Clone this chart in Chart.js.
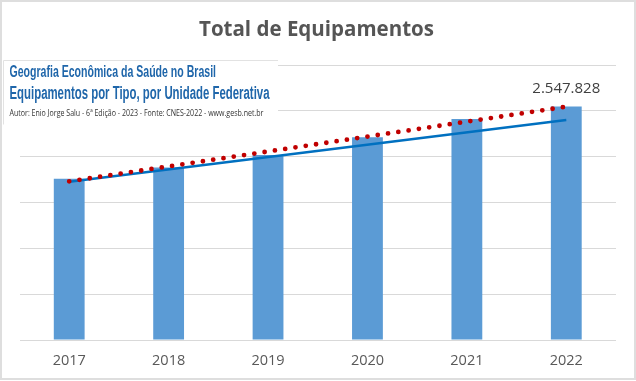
<!DOCTYPE html>
<html>
<head>
<meta charset="utf-8">
<script src="https://cdn.jsdelivr.net/npm/chart.js@4.4.1/dist/chart.umd.min.js"></script>
<style>
html,body{margin:0;padding:0;background:#fff;}
#wrap{width:636px;height:381px;position:relative;}
</style>
</head>
<body>
<div id="wrap"><canvas id="c" width="636" height="381"></canvas></div>
<script>
// ---- data ----
const categories = ['2017', '2018', '2019', '2020', '2021', '2022'];
const totals = [1760000, 1882000, 2018000, 2211000, 2411000, 2547828];
const trendBlue = [1726000, null, null, null, null, 2400000];
const trendRed = [1731000, null, null, null, null, 2545000];
const chartTitle = 'Total de Equipamentos';
const boxLine1 = 'Geografia Econômica da Saúde no Brasil';
const boxLine2 = 'Equipamentos por Tipo, por Unidade Federativa';
const boxLine3 = 'Autor: Enio Jorge Salu - 6ª Edição - 2023 - Fonte: CNES-2022 - www.gesb.net.br';
const labelIndex = 5;

function fmtBR(n){ return String(n).replace(/\B(?=(\d{3})+(?!\d))/g, '.'); }

function fitText(ctx, text, x, y, width, font, color, align){
  ctx.save();
  ctx.font = font;
  ctx.fillStyle = color;
  ctx.textBaseline = 'alphabetic';
  ctx.textAlign = 'left';
  const w = ctx.measureText(text).width;
  const s = width / w;
  ctx.translate(x, y);
  ctx.scale(s, 1);
  ctx.fillText(text, align === 'center' ? -w / 2 : 0, 0);
  ctx.restore();
}

const decor = {
  id: 'decor',
  beforeDraw(chart){
    const ctx = chart.ctx;
    ctx.save();
    ctx.fillStyle = '#fff';
    ctx.fillRect(0, 0, chart.width, chart.height);
    ctx.restore();
  },
  afterDraw(chart){
    const ctx = chart.ctx;
    // outer border
    ctx.save();
    ctx.strokeStyle = '#DEDEDE';
    ctx.lineWidth = 2;
    ctx.strokeRect(1, 1, 634, 378);
    ctx.restore();
    // title
    fitText(ctx, chartTitle, 316.5, 36, 235, 'bold 22px "Open Sans"', '#555555', 'center');
    // value label on last bar
    const meta = chart.getDatasetMeta(2);
    const bar = meta.data[labelIndex];
    ctx.save();
    ctx.font = '15px "Open Sans"';
    ctx.fillStyle = '#404040';
    ctx.textAlign = 'center';
    ctx.textBaseline = 'alphabetic';
    ctx.fillText(fmtBR(totals[labelIndex]), bar.x, bar.y - 13);
    ctx.restore();
    // overlay box
    ctx.save();
    ctx.fillStyle = '#fff';
    ctx.fillRect(3, 60.5, 275, 64);
    ctx.strokeStyle = '#E2E2E2';
    ctx.lineWidth = 1;
    ctx.beginPath();
    ctx.moveTo(3.5, 124.5); ctx.lineTo(3.5, 60.5); ctx.lineTo(278, 60.5);
    ctx.stroke();
    ctx.restore();
    fitText(ctx, boxLine1, 9.5, 77.3, 206.5, 'bold 17px "Liberation Sans Narrow", "Liberation Sans"', '#1F66AA');
    fitText(ctx, boxLine2, 9.5, 99.3, 260, 'bold 17.5px "Liberation Sans Narrow", "Liberation Sans"', '#1F66AA');
    fitText(ctx, boxLine3, 9.5, 115.7, 254, '8.5px "Open Sans"', '#333333');
  }
};

new Chart(document.getElementById('c'), {
  type: 'bar',
  data: {
    labels: categories,
    datasets: [
      {
        type: 'line',
        data: trendRed,
        borderColor: '#C00000',
        borderWidth: 4.8,
        borderDash: [0, 10.4],
        borderCapStyle: 'round',
        pointRadius: 0,
        spanGaps: true,
        order: 1
      },
      {
        type: 'line',
        data: trendBlue,
        borderColor: '#0070C0',
        borderWidth: 2.5,
        pointRadius: 0,
        spanGaps: true,
        order: 2
      },
      {
        type: 'bar',
        data: totals,
        backgroundColor: '#5B9BD5',
        barPercentage: 0.31,
        categoryPercentage: 1,
        order: 3
      }
    ]
  },
  options: {
    responsive: false,
    animation: false,
    devicePixelRatio: 1,
    layout: { padding: { top: 65, left: 19.5, right: 20, bottom: 0 } },
    plugins: { legend: { display: false }, tooltip: { enabled: false }, title: { display: false } },
    scales: {
      x: {
        grid: { display: false, drawTicks: false },
        border: { display: false },
        ticks: { color: '#595959', font: { family: '"Open Sans"', size: 14.5 }, padding: 12 },
        afterFit(s){ s.height = 41; }
      },
      y: {
        min: 0, max: 3000000,
        ticks: { display: false, stepSize: 500000 },
        grid: { color: '#D9D9D9', lineWidth: 1, drawTicks: false },
        border: { display: false },
        afterFit(s){ s.width = 0; }
      }
    }
  },
  plugins: [decor]
});
</script>
</body>
</html>
